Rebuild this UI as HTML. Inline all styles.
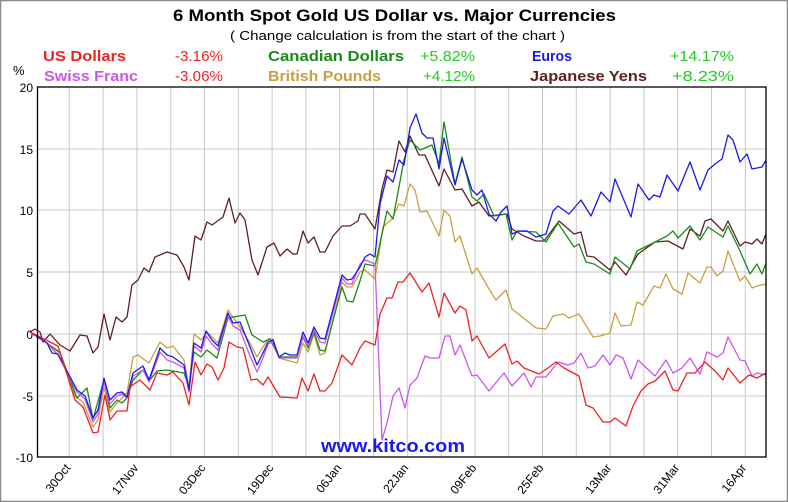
<!DOCTYPE html>
<html><head><meta charset="utf-8"><style>
html,body{margin:0;padding:0;background:#fff;}
svg{display:block;}
text{font-family:"Liberation Sans",sans-serif;}
</style></head><body>
<svg width="788" height="502" viewBox="0 0 788 502" xmlns="http://www.w3.org/2000/svg">
<rect x="0.5" y="0.5" width="787" height="501" fill="#fff" stroke="#8a8a8a" stroke-width="1.5"/>
<g font-weight="bold">
<text x="173" y="21" font-size="17" textLength="443" lengthAdjust="spacingAndGlyphs">6 Month Spot Gold US Dollar vs. Major Currencies</text>
</g>
<text x="230" y="40" font-size="13" textLength="335" lengthAdjust="spacingAndGlyphs">( Change calculation is from the start of the chart )</text>
<g font-size="15" font-weight="bold">
<text x="43" y="61" fill="#ee2222" textLength="83" lengthAdjust="spacingAndGlyphs">US Dollars</text>
<text x="175" y="61" fill="#ee2222" font-weight="normal" textLength="48" lengthAdjust="spacingAndGlyphs">-3.16%</text>
<text x="268" y="61" fill="#1a8a1a" textLength="136" lengthAdjust="spacingAndGlyphs">Canadian Dollars</text>
<text x="420" y="61" fill="#22cc22" font-weight="normal" textLength="55" lengthAdjust="spacingAndGlyphs">+5.82%</text>
<text x="532" y="61" fill="#1a1aee" textLength="40" lengthAdjust="spacingAndGlyphs">Euros</text>
<text x="670" y="61" fill="#22cc22" font-weight="normal" textLength="64" lengthAdjust="spacingAndGlyphs">+14.17%</text>
<text x="44" y="81" fill="#cc55ee" textLength="94" lengthAdjust="spacingAndGlyphs">Swiss Franc</text>
<text x="175" y="81" fill="#ee2222" font-weight="normal" textLength="48" lengthAdjust="spacingAndGlyphs">-3.06%</text>
<text x="268" y="81" fill="#c8a040" textLength="113" lengthAdjust="spacingAndGlyphs">British Pounds</text>
<text x="423" y="81" fill="#22cc22" font-weight="normal" textLength="52" lengthAdjust="spacingAndGlyphs">+4.12%</text>
<text x="530" y="81" fill="#602020" textLength="117" lengthAdjust="spacingAndGlyphs">Japanese Yens</text>
<text x="672" y="81" fill="#22cc22" font-weight="normal" textLength="62" lengthAdjust="spacingAndGlyphs">+8.23%</text>
</g>
<text x="13" y="75" font-size="13">%</text>
<g stroke="#c8c8c8" stroke-width="1">
<line x1="38" y1="149" x2="766" y2="149"/><line x1="38" y1="210" x2="766" y2="210"/>
<line x1="38" y1="272" x2="766" y2="272"/><line x1="38" y1="334" x2="766" y2="334"/>
<line x1="38" y1="396" x2="766" y2="396"/>
<line x1="69.3" y1="87" x2="69.3" y2="457"/><line x1="103.1" y1="87" x2="103.1" y2="457"/><line x1="136.9" y1="87" x2="136.9" y2="457"/><line x1="170.7" y1="87" x2="170.7" y2="457"/><line x1="204.5" y1="87" x2="204.5" y2="457"/><line x1="238.3" y1="87" x2="238.3" y2="457"/><line x1="272.1" y1="87" x2="272.1" y2="457"/><line x1="305.9" y1="87" x2="305.9" y2="457"/><line x1="339.7" y1="87" x2="339.7" y2="457"/><line x1="373.5" y1="87" x2="373.5" y2="457"/><line x1="407.3" y1="87" x2="407.3" y2="457"/><line x1="441.1" y1="87" x2="441.1" y2="457"/><line x1="474.9" y1="87" x2="474.9" y2="457"/><line x1="508.7" y1="87" x2="508.7" y2="457"/><line x1="542.5" y1="87" x2="542.5" y2="457"/><line x1="576.3" y1="87" x2="576.3" y2="457"/><line x1="610.1" y1="87" x2="610.1" y2="457"/><line x1="643.9" y1="87" x2="643.9" y2="457"/><line x1="677.7" y1="87" x2="677.7" y2="457"/><line x1="711.5" y1="87" x2="711.5" y2="457"/><line x1="745.3" y1="87" x2="745.3" y2="457"/>
</g>
<g font-size="12" text-anchor="end">
<text x="33" y="92">20</text><text x="33" y="154">15</text><text x="33" y="215">10</text>
<text x="33" y="277">5</text><text x="33" y="339">0</text><text x="33" y="401">-5</text><text x="33" y="462">-10</text>
</g>
<g font-size="12" text-anchor="end">
<text transform="translate(71,468) rotate(-52)">30Oct</text>
<text transform="translate(139,468) rotate(-52)">17Nov</text>
<text transform="translate(206,468) rotate(-52)">03Dec</text>
<text transform="translate(274,468) rotate(-52)">19Dec</text>
<text transform="translate(342,468) rotate(-52)">06Jan</text>
<text transform="translate(409,468) rotate(-52)">22Jan</text>
<text transform="translate(477,468) rotate(-52)">09Feb</text>
<text transform="translate(544,468) rotate(-52)">25Feb</text>
<text transform="translate(612,468) rotate(-52)">13Mar</text>
<text transform="translate(680,468) rotate(-52)">31Mar</text>
<text transform="translate(747,468) rotate(-52)">16Apr</text>
</g>
<text x="321" y="452" font-size="18" font-weight="bold" fill="#1a1aee" textLength="144" lengthAdjust="spacingAndGlyphs">www.kitco.com</text>
<g fill="none" stroke-width="1.3" stroke-linejoin="round">
<polyline stroke="#c8a040" points="30,332 60,352 75,396 83,402 93,427 98,420 104,387 110,412 117,403 127,393 133,357 138,355 149,363 160,342 167,348 173,346 184,360 189,387 194,334 201,340 207,332 218,343 228,310 240,327 250,343 257,357 268,339 273,339 279,358 297,363 303,343 308,352 314,334 320,355 325,353 342,282 347,287 352,287 360,272 365,270 375,279 383,227 392,219 399,204 404,206 410,184 415,190 420,212 427,211 439,236 444,210 450,216 455,242 460,236 472,274 477,268 489,289 496,300 506,290 512,309 536,328 546,329 553,316 563,314 569,318 579,314 593,337 600,336 610,333 615,313 621,326 631,325 637,302 643,305 654,286 660,288 666,274 673,289 682,294 688,273 700,283 707,267 711,267 717,276 723,271 728,251 740,281 745,276 752,288 757,286 766,284"/>
<polyline stroke="#602020" points="30,332 35,329 40,332 43,342 50,334 60,345 70,351 80,335 87,336 93,353 98,347 104,314 110,340 116,317 122,322 127,317 132,285 138,280 144,268 149,272 155,257 167,252 177,255 184,267 189,280 195,236 201,240 207,222 212,225 223,217 229,198 235,223 240,213 245,220 252,260 258,275 267,247 274,243 280,256 287,249 293,254 297,254 303,231 308,243 314,237 320,252 325,252 333,236 342,226 350,226 358,221 360,214 365,214 375,229 382,189 387,170 393,172 399,141 405,152 410,136 419,155 425,155 439,186 444,169 455,190 462,189 472,206 479,202 489,216 507,214 512,229 524,236 536,241 544,241 559,221 574,234 581,232 587,256 594,257 610,270 615,262 626,275 638,254 655,242 668,241 683,249 690,229 700,236 705,221 711,219 723,231 728,221 740,246 745,242 752,244 757,239 762,244 766,234"/>
<polyline stroke="#1a8a1a" points="30,332 47,343 60,353 77,398 87,388 93,419 104,380 110,408 117,400 122,403 127,398 133,380 143,370 150,380 157,371 167,370 173,371 184,373 189,388 194,352 201,357 207,350 217,358 228,318 245,315 252,335 263,342 270,339 279,357 297,357 303,337 308,348 314,332 320,350 325,351 342,287 347,301 353,302 360,281 365,264 375,266 387,211 393,219 404,160 410,140 420,150 432,145 439,164 444,122 455,184 462,157 472,197 477,201 484,194 494,216 506,214 512,240 517,231 536,232 546,242 558,223 574,247 579,244 586,262 594,264 610,274 615,257 630,269 637,251 655,242 667,236 673,231 678,238 690,226 700,240 708,227 723,237 728,226 740,251 750,274 757,264 762,274 766,263"/>
<polyline stroke="#cc55ee" points="30,332 47,343 58,355 77,392 85,399 93,422 98,414 104,382 110,404 117,396 122,394 127,398 133,376 143,370 149,382 160,352 167,360 173,362 184,368 189,392 194,346 201,352 206,336 212,344 218,350 228,316 233,326 240,330 250,356 257,372 263,358 268,344 273,342 279,358 297,358 303,336 308,346 314,330 320,342 325,343 342,278 347,284 352,284 360,264 365,260 375,264 382,440 387,423 393,396 399,388 405,408 410,385 417,378 425,356 430,358 439,358 445,336 450,336 455,355 460,345 472,376 477,375 489,391 504,373 512,386 524,373 531,387 536,377 546,377 558,362 568,365 574,363 581,353 588,368 595,366 603,355 610,365 616,355 623,358 631,379 638,360 655,376 666,360 673,373 682,368 690,358 700,374 707,352 717,357 723,353 728,337 740,360 745,361 752,376 757,373 766,375"/>
<polyline stroke="#1a1aee" points="30,332 47,343 52,353 58,354 77,390 85,396 93,418 98,410 104,378 110,400 117,393 122,392 127,397 133,373 143,366 149,380 160,348 167,355 173,357 184,365 189,390 194,343 201,348 206,331 212,340 218,346 228,313 233,323 240,322 250,347 257,365 263,353 268,342 273,340 279,357 285,353 290,355 297,355 303,332 308,343 314,327 320,338 325,339 342,275 347,280 352,279 360,267 365,257 370,254 375,257 380,204 387,176 393,182 399,160 404,165 410,128 416,114 422,133 427,138 433,138 439,169 444,138 455,185 462,159 472,190 477,195 482,190 489,214 496,221 501,212 507,206 512,234 519,231 527,231 536,237 546,234 553,211 558,206 569,214 581,200 591,216 601,192 610,202 615,179 631,217 638,184 649,200 654,195 660,197 667,175 678,191 690,162 700,190 708,170 715,164 722,159 728,135 733,140 740,162 747,154 752,169 762,167 766,160"/>
<polyline stroke="#ee2222" points="30,332 58,346 75,400 83,407 93,433 98,432 105,395 110,420 117,411 127,411 130,387 140,380 150,390 157,373 167,375 173,372 183,383 189,405 195,362 201,375 207,364 212,367 218,380 224,368 229,342 237,347 243,348 251,380 257,379 263,385 268,377 280,397 297,398 302,378 308,391 314,374 320,391 325,391 332,383 342,355 352,365 360,348 365,341 375,345 380,314 387,298 392,298 398,282 403,282 410,273 422,292 429,283 439,317 444,293 455,313 460,306 466,310 472,341 477,336 489,358 505,344 512,364 517,361 524,368 539,374 548,368 556,362 564,368 579,376 586,405 593,408 603,422 610,422 615,418 626,426 633,406 641,391 648,384 655,381 665,371 673,390 678,391 687,373 695,373 705,362 715,371 723,380 728,368 740,383 749,375 757,378 766,373"/>
</g>
<rect x="37.5" y="87" width="728.5" height="370" fill="none" stroke="#000" stroke-width="1.3"/>
</svg>
</body></html>
